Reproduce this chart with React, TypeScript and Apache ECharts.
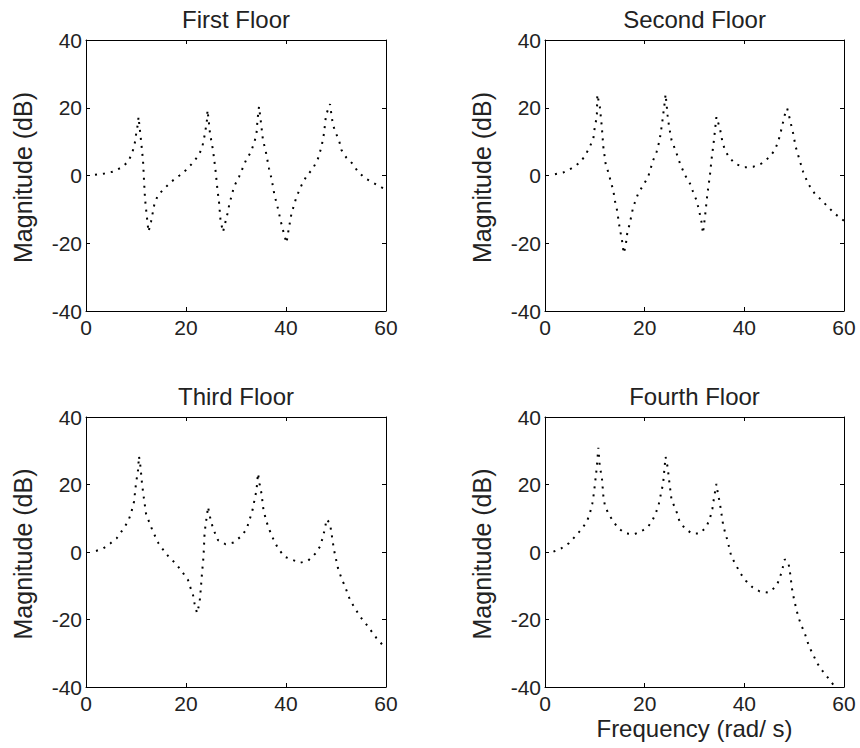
import React, { useEffect, useRef } from "react";
import * as echarts from "echarts";

const FONT = '"Liberation Sans", Arial, Helvetica, sans-serif';
const TEXT_COLOR = "#222";

const titles = ["First Floor", "Second Floor", "Third Floor", "Fourth Floor"];
const xTicks = { min: 0, max: 60, interval: 20 };
const yTicks = { min: -40, max: 40, interval: 20 };
const yLabel = "Magnitude (dB)";
const xLabel = "Frequency (rad/ s)";

const floor1Freq = [1.8, 3.7, 5.3, 7, 8.4, 9.2, 9.7, 10, 10.4, 10.5, 11, 11.4, 11.6, 11.8, 12, 12.5, 13.0, 13.7, 14.4, 15.7, 17, 18.7, 20, 21.2, 22.4, 23.2, 23.8, 24.2, 24.3, 24.6, 24.8, 25.4, 25.9, 26.3, 26.6, 26.9, 27.4, 28.3, 28.7, 29.6, 30.6, 32, 33, 33.7, 34.1, 34.3, 34.6, 34.9, 35.4, 35.9, 36.6, 37.1, 37.7, 38.4, 38.9, 39.5, 40.1, 40.5, 41.1, 42.1, 43.1, 44.1, 45.4, 46.4, 47.1, 47.6, 48, 48.8, 49.1, 49.4, 50, 50.6, 51.1, 52.1, 53.3, 54.4, 55.9, 57.4, 59.1, 60];
const floor1Mag = [0.2, 0.6, 1.1, 2.3, 4, 6.5, 9, 12, 15.4, 17.3, 10.4, 4.5, -1.4, -6.8, -9.8, -16.6, -13.7, -8.3, -5.8, -3.8, -1.9, 0, 1.6, 3.5, 5.7, 8, 12.4, 16.4, 19.3, 15.4, 12.4, 7.5, 1.6, -4.3, -7.8, -13.2, -16.7, -11.2, -8.3, -3.3, -0.4, 4.5, 7, 10, 12.4, 16.4, 20.3, 16.8, 10.4, 7.5, 2.1, -0.9, -5.8, -9.8, -13.2, -16.7, -19.9, -16.2, -11.2, -6.3, -2.9, -0.2, 2.1, 5, 8.5, 12.4, 17.8, 21.1, 17.8, 14.9, 12.4, 10.4, 7.5, 5.2, 3.5, 1.1, -0.9, -2.1, -3.5, -4];

const floor2Freq = [2, 3.7, 5.3, 6.9, 8, 9, 9.7, 10, 10.4, 10.5, 11, 11.4, 11.7, 12.2, 12.8, 13.2, 13.7, 14, 14.4, 14.7, 15, 15.4, 15.8, 16.2, 16.5, 17, 17.7, 18.7, 19.7, 20.7, 21.7, 22.4, 23, 23.5, 24, 24.2, 24.6, 24.9, 25.4, 26.3, 27.1, 28.1, 29.1, 29.7, 30.4, 30.9, 31.4, 31.7, 32.1, 32.6, 33.1, 33.4, 33.9, 34.4, 35.1, 35.6, 36.1, 36.9, 38.1, 40, 41.8, 43.4, 45.1, 46.1, 46.8, 47.4, 48.1, 48.6, 49.1, 49.8, 50.3, 51.1, 51.8, 52.8, 54.1, 55.5, 56.8, 58.1, 60];
const floor2Mag = [0.4, 0.9, 2.1, 3.7, 5.7, 8.5, 10.9, 14.4, 17.3, 23.9, 20.3, 14.4, 8.5, 3.1, 0.6, -1.9, -4.3, -7.3, -9.8, -12.7, -15.7, -18.6, -23, -20.6, -17.1, -14.2, -9.3, -5.3, -2.9, -0.4, 4.5, 7, 10.4, 15.4, 21.3, 24, 17.8, 14.4, 10.4, 7, 3.5, 0.1, -2.4, -4.8, -7.3, -10.2, -13.7, -17.1, -12.2, -5.3, 0.1, 4.5, 10.4, 17.3, 13.9, 10, 7.5, 5.5, 3.5, 2.4, 2.6, 3.5, 5.5, 7.5, 10, 13.4, 17.8, 19.8, 16.8, 12.4, 8.5, 4.5, 1.1, -2.4, -5.3, -7.3, -9.3, -11.2, -13.4];

const floor3Freq = [2, 3.5, 4.9, 6.1, 7.3, 8.4, 9, 9.6, 10, 10.4, 10.6, 10.9, 11.2, 11.5, 12, 12.6, 13.4, 14.5, 15.7, 16.8, 17.9, 19.2, 20.4, 20.8, 21.4, 21.7, 22.2, 22.7, 22.9, 23.2, 23.5, 23.7, 23.9, 24.2, 24.4, 24.8, 25.4, 26.4, 27.9, 29.5, 30.9, 32.1, 32.7, 33.3, 33.7, 34.1, 34.4, 34.7, 35.1, 35.5, 36.1, 36.7, 37.5, 38.4, 39.7, 41.1, 42.8, 44.4, 45.8, 46.8, 47.3, 47.8, 48.1, 48.8, 49.1, 49.6, 50.4, 51.1, 51.8, 52.8, 53.8, 54.8, 55.9, 57.1, 58.1, 59.3, 60];
const floor3Mag = [0.3, 1.1, 2.6, 4, 6.5, 9, 11.4, 14.9, 20.3, 24.2, 28.4, 25.2, 20.3, 16.8, 11.4, 9, 6, 2.6, 0.1, -1.9, -3.3, -5.8, -8.3, -10.2, -12.7, -15.2, -18.1, -15.2, -12, -6.3, -1.4, 5, 8, 10.9, 13.4, 10.4, 7, 3.5, 2.3, 2.8, 4.5, 6.7, 9.5, 12.4, 15.4, 18.3, 23.3, 20.3, 17.3, 12.4, 9, 6.5, 3.7, 1.1, -1.4, -2.2, -3.2, -2.6, -0.6, 1.6, 4, 7, 9.7, 8.5, 5.5, 0.6, -4.8, -7.8, -10.2, -14.2, -16.7, -19.1, -21.1, -23.5, -25.5, -27.5, -28];

const floor4Freq = [1.7, 3.3, 4.8, 6.1, 7.3, 8.4, 9, 9.5, 9.8, 10, 10.4, 10.7, 11, 11.4, 11.7, 12, 12.7, 13.6, 14.7, 16.2, 18, 19.7, 20.7, 21.6, 22.2, 22.8, 23.2, 23.7, 24, 24.2, 24.6, 24.9, 25.4, 26.3, 26.9, 27.9, 29.4, 31.1, 32.4, 33.1, 33.6, 33.9, 34.4, 34.7, 35.1, 35.4, 35.7, 36.1, 36.6, 37.4, 38.3, 39.2, 40.3, 41.6, 43.1, 44.8, 46.4, 47.1, 47.6, 48.1, 48.8, 49.1, 49.6, 50, 50.4, 50.8, 51.4, 52.1, 53, 53.8, 54.6, 55.6, 56.8, 58, 60];
const floor4Mag = [0.1, 1.1, 2.6, 4.7, 6.7, 9, 11.4, 14.4, 17.3, 19.8, 25.2, 30.9, 25.2, 22.3, 16.8, 13.9, 11.4, 9.3, 7, 5.5, 5.3, 6.5, 7.5, 9.5, 11.4, 13.9, 16.8, 20.3, 25.2, 28.2, 25.2, 21.3, 15.4, 12.4, 9.5, 7.3, 5.5, 5.5, 7.5, 10, 12.9, 15.9, 20.2, 17.3, 14.4, 11.4, 8.5, 6, 3.5, -1.4, -3.8, -6.3, -8.5, -10.4, -11.7, -12, -10.2, -7.8, -5.3, -2.2, -2.9, -5.3, -11.2, -14.2, -16.7, -19.1, -21.6, -24, -28, -30.4, -32.9, -35.1, -37.3, -39.6, -43.5];

const floorFreqs = [floor1Freq, floor2Freq, floor3Freq, floor4Freq];
const floorMags = [floor1Mag, floor2Mag, floor3Mag, floor4Mag];

const grids = [
  { left: 86, top: 40, width: 300, height: 271 },
  { left: 545, top: 40, width: 299, height: 271 },
  { left: 86, top: 417, width: 300, height: 270 },
  { left: 545, top: 417, width: 299, height: 270 },
];

function buildOption() {
  const xAxis: any[] = [];
  const yAxis: any[] = [];
  const series: any[] = [];
  const graphic: any[] = [];
  const line = { show: true, onZero: false, lineStyle: { color: "#000", width: 1 } };
  const tick = { show: true, inside: true, length: 4, lineStyle: { color: "#000", width: 1 } };
  grids.forEach((g, i) => {
    xAxis.push({
      gridIndex: i, type: "value", position: "bottom", ...xTicks,
      axisLine: line, axisTick: tick, splitLine: { show: false },
      axisLabel: { show: true, margin: 6, fontSize: 21, color: TEXT_COLOR, fontFamily: FONT },
    });
    xAxis.push({
      gridIndex: i, type: "value", position: "top", ...xTicks,
      axisLine: line, axisTick: tick, splitLine: { show: false }, axisLabel: { show: false },
    });
    yAxis.push({
      gridIndex: i, type: "value", position: "left", ...yTicks,
      axisLine: line, axisTick: tick, splitLine: { show: false },
      axisLabel: { show: true, margin: 4, fontSize: 21, color: TEXT_COLOR, fontFamily: FONT },
    });
    yAxis.push({
      gridIndex: i, type: "value", position: "right", ...yTicks,
      axisLine: line, axisTick: tick, splitLine: { show: false }, axisLabel: { show: false },
    });
    series.push({
      type: "line",
      xAxisIndex: 2 * i,
      yAxisIndex: 2 * i,
      data: floorFreqs[i].map((f, k) => [f, floorMags[i][k]]),
      showSymbol: false,
      symbol: "none",
      clip: true,
      lineStyle: { color: "#000", width: 2, type: [2, 6], cap: "butt" },
    });
    const cx = g.left + g.width / 2;
    graphic.push({
      type: "text",
      x: cx,
      y: g.top - 21,
      style: { text: titles[i], font: `24px ${FONT}`, fill: TEXT_COLOR, textAlign: "center", textVerticalAlign: "middle" },
    });
    graphic.push({
      type: "text",
      x: g.left - 63,
      y: g.top + g.height / 2 + 2,
      rotation: Math.PI / 2,
      style: { text: yLabel, font: `25px ${FONT}`, fill: TEXT_COLOR, textAlign: "center", textVerticalAlign: "middle" },
    });
  });
  const g4 = grids[3];
  graphic.push({
    type: "text",
    x: g4.left + g4.width / 2,
    y: g4.top + g4.height + 41,
    style: { text: xLabel, font: `24px ${FONT}`, fill: TEXT_COLOR, textAlign: "center", textVerticalAlign: "middle" },
  });
  return {
    animation: false,
    backgroundColor: "#fff",
    grid: grids.map((g) => ({ ...g, containLabel: false })),
    xAxis,
    yAxis,
    series,
    graphic,
  };
}

export default function App() {
  const ref = useRef<HTMLDivElement>(null);
  useEffect(() => {
    document.body.style.margin = "0";
    if (!ref.current) return;
    const chart = echarts.init(ref.current, undefined, { renderer: "svg" });
    chart.setOption(buildOption());
    return () => chart.dispose();
  }, []);
  return (
    <div
      ref={ref}
      style={{ position: "fixed", left: 0, top: 0, width: 860, height: 748, background: "#fff" }}
    />
  );
}
